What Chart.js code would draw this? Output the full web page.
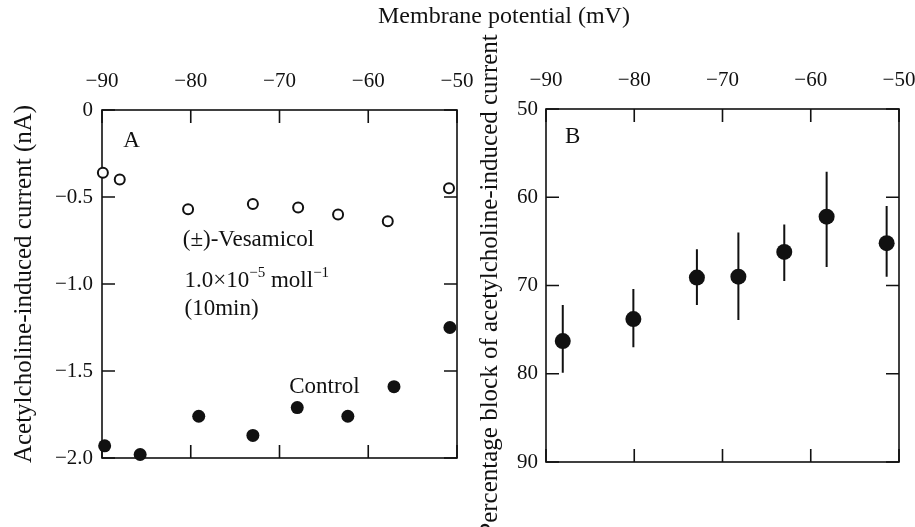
<!DOCTYPE html>
<html><head><meta charset="utf-8">
<script src="https://cdn.jsdelivr.net/npm/chart.js@4/dist/chart.umd.min.js"></script>
<style>
html,body{margin:0;padding:0;background:#fff;width:915px;height:527px;overflow:hidden}
#wrapA{position:absolute;left:0;top:0;width:490px;height:527px}
#wrapB{position:absolute;left:470px;top:0;width:465px;height:527px}
#title{position:absolute;left:378px;top:3px;font:24px/24px "Liberation Serif","Times New Roman",serif;color:#111;white-space:nowrap;z-index:5}
</style></head><body>
<div id="wrapA"><canvas id="cA"></canvas></div>
<div id="wrapB"><canvas id="cB"></canvas></div>
<div id="title">Membrane potential (mV)</div>
<script>
// ---- data ----
const voltRange = [-90, -50];
// Panel A: acetylcholine-induced current (nA)
const vesVolt = [-89.9, -88.0, -80.3, -73.0, -67.9, -63.4, -57.8, -50.9];
const vesCurr = [-0.36, -0.40, -0.57, -0.54, -0.56, -0.60, -0.64, -0.45];
const ctlVolt = [-89.7, -85.7, -79.1, -73.0, -68.0, -62.3, -57.1, -50.8];
const ctlCurr = [-1.93, -1.98, -1.76, -1.87, -1.71, -1.76, -1.59, -1.25];
// Panel B: percentage block
const blkVolt = [-88.1, -80.1, -72.9, -68.2, -63.0, -58.2, -51.4];
const blkMean = [76.3, 73.8, 69.1, 69.0, 66.2, 62.2, 65.2];
const blkLow  = [72.2, 70.4, 65.9, 64.0, 63.1, 57.1, 61.0];
const blkHigh = [79.9, 77.0, 72.2, 73.9, 69.5, 67.9, 69.0];

const FONT = '"Liberation Serif","Times New Roman",serif';
const INK = '#111';
const MINUS = '\u2212';

const frameTicks = {
  id: 'frameTicks',
  beforeDatasetsDraw(chart) {
    const {ctx, chartArea: {left, right, top, bottom}, scales: {x, y}} = chart;
    const L = 13;
    ctx.save();
    ctx.strokeStyle = INK; ctx.lineWidth = 1.6;
    ctx.strokeRect(left, top, right - left, bottom - top);
    ctx.beginPath();
    x.ticks.forEach(t => {
      const px = x.getPixelForValue(t.value);
      ctx.moveTo(px, top); ctx.lineTo(px, top + L);
      ctx.moveTo(px, bottom); ctx.lineTo(px, bottom - L);
    });
    y.ticks.forEach(t => {
      const py = y.getPixelForValue(t.value);
      ctx.moveTo(left, py); ctx.lineTo(left + L, py);
      ctx.moveTo(right, py); ctx.lineTo(right - L, py);
    });
    ctx.stroke();
    ctx.restore();
  }
};

const textNotes = {
  id: 'textNotes',
  afterDraw(chart, args, opts) {
    const {ctx, scales: {x, y}} = chart;
    ctx.save();
    ctx.fillStyle = INK;
    ctx.textBaseline = 'alphabetic';
    ctx.textAlign = 'left';
    (opts.items || []).forEach(it => {
      let px = x.getPixelForValue(it.x);
      const py = y.getPixelForValue(it.y);
      it.parts.forEach(p => {
        const size = p.sup ? 15 : 23;
        ctx.font = size + 'px ' + FONT;
        ctx.fillText(p.t, px, p.sup ? py - 10 : py);
        px += ctx.measureText(p.t).width;
      });
    });
    ctx.restore();
  }
};

const errorBars = {
  id: 'errorBars',
  beforeDatasetsDraw(chart) {
    const {ctx, scales: {x, y}} = chart;
    ctx.save();
    ctx.strokeStyle = INK; ctx.lineWidth = 2;
    ctx.beginPath();
    blkVolt.forEach((v, i) => {
      const px = x.getPixelForValue(v);
      ctx.moveTo(px, y.getPixelForValue(blkLow[i]));
      ctx.lineTo(px, y.getPixelForValue(blkHigh[i]));
    });
    ctx.stroke();
    ctx.restore();
  }
};

function xAxis() {
  return {
    type: 'linear', position: 'top', min: voltRange[0], max: voltRange[1],
    grid: {display: false, drawTicks: false}, border: {display: false},
    ticks: {stepSize: 10, padding: 16, color: INK, font: {family: FONT, size: 21},
      callback: v => (v < 0 ? MINUS : '') + Math.abs(v)},
    afterFit(s) { s.height = s.chart.canvas.id === 'cA' ? 110 : 109; }
  };
}

Chart.defaults.animation = false;

new Chart(document.getElementById('cA'), {
  type: 'scatter',
  data: {
    datasets: [
      {label: 'Vesamicol', data: vesVolt.map((v, i) => ({x: v, y: vesCurr[i]})), clip: false,
        pointRadius: 5, pointBorderWidth: 2, pointBackgroundColor: '#fff', pointBorderColor: INK},
      {label: 'Control', data: ctlVolt.map((v, i) => ({x: v, y: ctlCurr[i]})), clip: false,
        pointRadius: 6.5, pointBorderWidth: 0, pointBackgroundColor: INK, pointBorderColor: INK}
    ]
  },
  options: {
    responsive: true, maintainAspectRatio: false, devicePixelRatio: 1,
    layout: {padding: {left: 0, top: 0, right: 33, bottom: 69}},
    plugins: {legend: {display: false}, tooltip: {enabled: false},
      textNotes: {items: [
        {x: -87.6, y: -0.213, parts: [{t: 'A'}]},
        {x: -80.9, y: -0.78, parts: [{t: '(\u00b1)-Vesamicol'}]},
        {x: -80.7, y: -1.017, parts: [{t: '1.0\u00d710'}, {t: MINUS + '5', sup: true}, {t: ' moll'}, {t: MINUS + '1', sup: true}]},
        {x: -80.7, y: -1.178, parts: [{t: '(10min)'}]},
        {x: -68.9, y: -1.626, parts: [{t: 'Control'}]}
      ]}
    },
    scales: {
      x: xAxis(),
      y: {
        type: 'linear', min: -2, max: 0,
        grid: {display: false, drawTicks: false}, border: {display: false},
        ticks: {stepSize: 0.5, padding: 9, color: INK, font: {family: FONT, size: 21},
          callback: v => v === 0 ? '0' : MINUS + Math.abs(v).toFixed(1)},
        title: {display: true, text: 'Acetylcholine-induced current (nA)', color: INK,
          font: {family: FONT, size: 25}, padding: {top: 9, bottom: 0}},
        afterFit(s) { s.width = 102; }
      }
    }
  },
  plugins: [frameTicks, textNotes]
});

new Chart(document.getElementById('cB'), {
  type: 'scatter',
  data: {
    datasets: [
      {label: 'Block', data: blkVolt.map((v, i) => ({x: v, y: blkMean[i]})), clip: false,
        pointRadius: 8, pointBorderWidth: 0, pointBackgroundColor: INK, pointBorderColor: INK}
    ]
  },
  options: {
    responsive: true, maintainAspectRatio: false, devicePixelRatio: 1,
    layout: {padding: {left: 0, top: 0, right: 36, bottom: 65}},
    plugins: {legend: {display: false}, tooltip: {enabled: false},
      textNotes: {items: [{x: -87.85, y: 53.85, parts: [{t: 'B'}]}]}
    },
    scales: {
      x: xAxis(),
      y: {
        type: 'linear', min: 50, max: 90, reverse: true,
        grid: {display: false, drawTicks: false}, border: {display: false},
        ticks: {stepSize: 10, padding: 8, color: INK, font: {family: FONT, size: 21}},
        title: {display: true, text: 'Percentage block of acetylcholine-induced current', color: INK,
          font: {family: FONT, size: 25}, padding: {top: 5, bottom: 0}},
        afterFit(s) { s.width = 76; }
      }
    }
  },
  plugins: [frameTicks, errorBars, textNotes]
});
</script>
</body></html>
